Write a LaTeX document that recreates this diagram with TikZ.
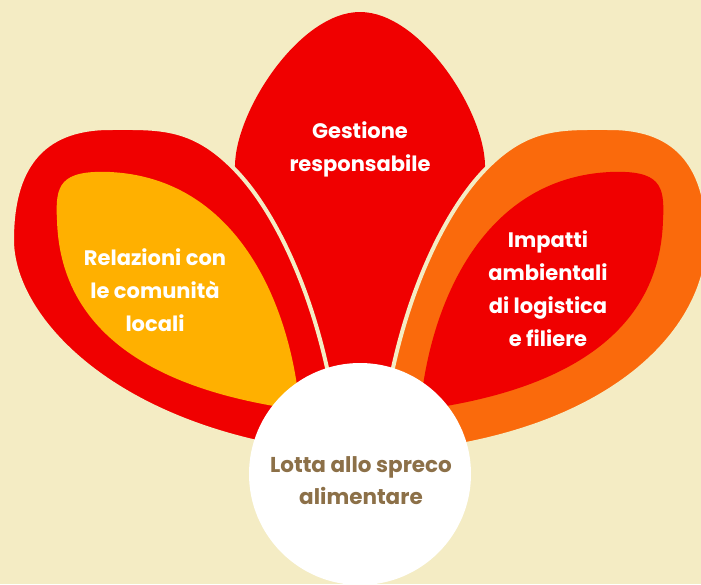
\documentclass[tikz,border=0pt]{standalone}
\usepackage{fontspec}
\setmainfont{Poppins}
\usetikzlibrary{positioning}
\definecolor{cream}{HTML}{F4ECC4}
\definecolor{petalred}{HTML}{F00000}
\definecolor{amber}{HTML}{FFB000}
\definecolor{tangerine}{HTML}{FA6A0C}
\definecolor{umber}{HTML}{8C7048}

\tikzset{
  petaltext/.style={text=white, align=center, font=\bfseries\fontsize{21}{33}\selectfont},
  hubtext/.style={text=umber, align=center, font=\bfseries\fontsize{21.5}{32}\selectfont},
  gap/.style={draw=cream, line width=4pt},
}

\begin{document}
\begin{tikzpicture}[x=1pt, y=-1pt]

  \fill[cream] (0,0) rectangle (701,584);
  \useasboundingbox (0,0) rectangle (701,584);
  \clip (0,0) rectangle (701,584);

  % middle petal
  \fill[petalred] (360,470) .. controls (300,330) and (232,250) .. (235,165)
                  .. controls (236,110) and (300,12) .. (360,12)
                  .. controls (420,12) and (484,110) .. (485,165)
                  .. controls (488,250) and (420,330) .. (360,470) -- cycle;

  % left petal
  \filldraw[gap, fill=petalred]
              (340,455) .. controls (330,330) and (285,225) .. (240,175)
              .. controls (195,125) and (160,128) .. (110,128)
              .. controls (40,128) and (12,170) .. (12,240)
              .. controls (12,320) and (120,435) .. (340,455) -- cycle;
  \fill[amber] (300,410) .. controls (290,300) and (235,178) .. (110,172)
              .. controls (60,170) and (55,185) .. (57,220)
              .. controls (60,330) and (150,390) .. (300,410) -- cycle;

  % right petal
  \filldraw[gap, fill=tangerine]
              (380,455) .. controls (390,330) and (435,225) .. (480,175)
              .. controls (525,125) and (560,128) .. (610,128)
              .. controls (680,128) and (708,170) .. (708,240)
              .. controls (708,330) and (610,440) .. (380,455) -- cycle;
  \fill[petalred] (420,410) .. controls (430,300) and (485,178) .. (610,172)
              .. controls (660,170) and (665,185) .. (663,220)
              .. controls (660,330) and (570,390) .. (420,410) -- cycle;

  % centre circle
  \fill[white] (360,474) circle (111);

  \node[petaltext] (gestione)  at (360,149) {Gestione\\responsabile};
  \node[petaltext] (relazioni) at (155,290) {Relazioni con\\le comunità\\locali};
  \node[petaltext] (impatti)   at (548,289) {Impatti\\ambientali\\di logistica\\e filiere};
  \node[hubtext]   (lotta)     at (361,481) {Lotta allo spreco\\alimentare};
\end{tikzpicture}
\end{document}
